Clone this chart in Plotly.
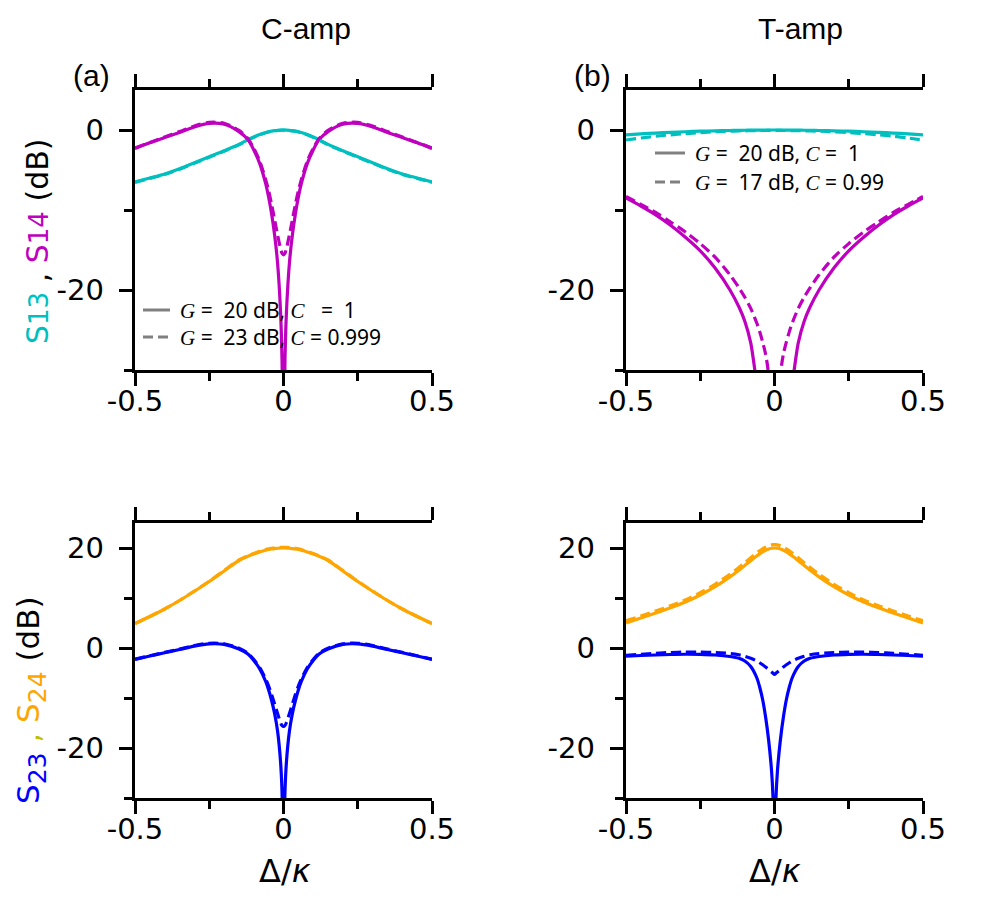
import plotly.graph_objects as go

# Detuning samples (positive half, curves are symmetric about 0)
DX = [0, 0.005, 0.01, 0.02, 0.03, 0.04, 0.05, 0.06, 0.08, 0.1, 0.12, 0.15,
      0.2, 0.25, 0.3, 0.35, 0.4, 0.45, 0.5]

# (a) C-amp, top: S13 (cyan), S14 (magenta)
S13a_solid = [0, 0, -0.01, -0.04, -0.08, -0.14, -0.22, -0.32, -0.57, -0.88, -1.22, -1.8,
              -2.6, -3.35, -4.1, -4.85, -5.5, -6.0, -6.5]
S13a_dash = [-0.02, -0.02, -0.03, -0.06, -0.1, -0.16, -0.24, -0.35, -0.6, -0.92, -1.27, -1.85,
             -2.65, -3.4, -4.15, -4.9, -5.55, -6.05, -6.55]
S14a_solid = [-45, -28.7, -22.7, -16.6, -13.1, -10.5, -8.4, -6.7, -4.2, -2.5, -1.2, -0.2,
              0.72, 0.82, 0.38, -0.3, -0.95, -1.6, -2.3]
S14a_dash = [-15.6, -15.4, -14.8, -13.1, -11.2, -9.3, -7.6, -6.2, -3.9, -2.3, -1.05, -0.05,
             0.85, 0.95, 0.5, -0.2, -0.88, -1.55, -2.25]

# (b) T-amp, top
S13b_solid = [0, 0, 0, 0, 0, -0.005, -0.01, -0.01, -0.02, -0.03, -0.04, -0.06,
              -0.1, -0.15, -0.22, -0.3, -0.38, -0.48, -0.6]
S13b_dash = [-0.05, -0.05, -0.05, -0.05, -0.06, -0.06, -0.07, -0.08, -0.09, -0.1, -0.12, -0.15,
             -0.22, -0.32, -0.45, -0.6, -0.78, -1.0, -1.25]
S14b_solid = [-60, -56, -52, -45, -40, -36, -33, -31.5, -26.6, -23.9, -22.1, -20.0,
              -17.26, -15.1, -13.4, -11.9, -10.6, -9.5, -8.5]
S14b_dash = [-45, -40, -36, -30.5, -28.0, -26.5, -25.2, -24.1, -22.3, -20.9, -19.7, -18.1,
             -15.9, -14.2, -12.75, -11.5, -10.3, -9.3, -8.3]

# (a) C-amp, bottom: S23 (blue), S24 (orange)
S23a_solid = [-45, -28.7, -22.7, -16.6, -13.1, -10.5, -8.4, -6.7, -4.2, -2.5, -1.2, -0.2,
              0.72, 0.82, 0.38, -0.3, -0.95, -1.6, -2.3]
S23a_dash = [-15.7, -15.5, -14.9, -13.1, -11.2, -9.3, -7.6, -6.2, -3.9, -2.3, -1.05, -0.05,
             0.85, 0.95, 0.5, -0.2, -0.88, -1.55, -2.25]
S24a_solid = [20.0, 20.0, 19.99, 19.95, 19.88, 19.8, 19.7, 19.55, 19.2, 18.8, 18.35, 17.5,
              15.4, 13.3, 11.35, 9.5, 7.8, 6.3, 4.9]
S24a_dash = [20.15, 20.15, 20.14, 20.1, 20.03, 19.95, 19.85, 19.7, 19.33, 18.9, 18.45, 17.6,
             15.5, 13.35, 11.4, 9.5, 7.8, 6.3, 4.9]

# (b) T-amp, bottom
S23b_solid = [-45, -30, -24.5, -18.3, -13.8, -10.3, -7.8, -5.9, -3.7, -2.6, -2.05, -1.7,
              -1.4, -1.28, -1.25, -1.3, -1.4, -1.5, -1.65]
S23b_dash = [-5.3, -5.05, -4.8, -4.3, -3.8, -3.35, -2.95, -2.6, -2.05, -1.65, -1.35, -1.1,
             -0.9, -0.82, -0.82, -0.9, -1.05, -1.25, -1.45]
S24b_solid = [20.0, 19.99, 19.95, 19.79, 19.54, 19.22, 18.83, 18.4, 17.47, 16.51, 15.56, 14.23,
              12.26, 10.6, 9.2, 8.05, 7.0, 6.0, 5.0]
S24b_dash = [20.7, 20.68, 20.63, 20.45, 20.18, 19.85, 19.45, 19.0, 18.05, 17.07, 16.1, 14.75,
             12.75, 11.05, 9.6, 8.45, 7.4, 6.4, 5.45]

X_TICKS = [-0.5, 0, 0.5]
X_TICKTEXT = ["-0.5", "0", "0.5"]
X_MINOR = [-0.25, 0.25]

CYAN = "#00BFBF"
MAGENTA = "#BF00BF"
BLUE = "#0000FF"
ORANGE = "#FFA500"
OLIVE = "#BFBF00"
GRAY = "#808080"
DASH = "10px,5px"
LW = 3.2


def mirror(h):
    return h[:0:-1] + h


X = [-v for v in DX[:0:-1]] + DX

fig = go.Figure()

panels = [
    ("x", "y", [(S13a_solid, CYAN, "solid"), (S14a_solid, MAGENTA, "solid"),
                (S13a_dash, CYAN, DASH), (S14a_dash, MAGENTA, DASH)]),
    ("x2", "y2", [(S13b_solid, CYAN, "solid"), (S14b_solid, MAGENTA, "solid"),
                  (S13b_dash, CYAN, DASH), (S14b_dash, MAGENTA, DASH)]),
    ("x3", "y3", [(S24a_solid, ORANGE, "solid"), (S23a_solid, BLUE, "solid"),
                  (S24a_dash, ORANGE, DASH), (S23a_dash, BLUE, DASH)]),
    ("x4", "y4", [(S24b_solid, ORANGE, "solid"), (S23b_solid, BLUE, "solid"),
                  (S24b_dash, ORANGE, DASH), (S23b_dash, BLUE, DASH)]),
]
for xa, ya, series in panels:
    for vals, col, dash in series:
        fig.add_trace(go.Scatter(x=X, y=mirror(vals), mode="lines", xaxis=xa, yaxis=ya,
                                 line=dict(color=col, width=LW, dash=dash, shape="spline",
                                           smoothing=0.8),
                                 showlegend=False, hoverinfo="skip"))

W, H = 1003, 897
OFF = 8  # page body margin in the browser


def fx(x):
    return (x - OFF) / W


def fy(y):
    return 1 - (y - OFF) / H


XA = [fx(135), fx(432)]
XB = [fx(626), fx(923)]
YT = [fy(370), fy(90)]
YB = [fy(798), fy(523)]

TICKFONT = dict(family="DejaVu Sans", size=29, color="black")


def xax(domain, anchor):
    return dict(domain=domain, anchor=anchor, range=[-0.5, 0.5], tickmode="array",
                tickvals=X_TICKS, ticktext=X_TICKTEXT, ticks="outside", ticklen=13,
                tickwidth=3, tickcolor="black", showline=True, linewidth=3,
                linecolor="black", mirror="ticks", showgrid=False, zeroline=False,
                tickfont=TICKFONT, automargin=False, ticklabelstandoff=-10,
                minor=dict(tickmode="array", tickvals=X_MINOR, ticks="outside",
                           ticklen=8, tickwidth=3, tickcolor="black", showgrid=False))


def yax(domain, anchor, rng, major, minor, side="left", overlaying=None):
    pad = "\u00a0" if side == "left" else ""
    d = dict(anchor=anchor, range=rng, tickmode="array", tickvals=major,
             ticktext=[f"{v}{pad}" for v in major], ticks="outside", ticklen=13,
             tickwidth=3, tickcolor="black", showline=True, linewidth=3,
             linecolor="black", showgrid=False, zeroline=False, side=side,
             tickfont=TICKFONT, automargin=False,
             minor=dict(tickmode="array", tickvals=minor, ticks="outside",
                        ticklen=8, tickwidth=3, tickcolor="black", showgrid=False))
    if overlaying:
        d["overlaying"] = overlaying
    else:
        d["domain"] = domain
    return d


TOP_MAJOR, TOP_MINOR = [-20, 0], [-30, -10]
BOT_MAJOR, BOT_MINOR = [-20, 0, 20], [-30, -10, 10]

fig.update_layout(
    width=W, height=H, margin=dict(l=0, r=0, t=0, b=0, autoexpand=False),
    paper_bgcolor="white", plot_bgcolor="white", showlegend=False,
    font=dict(family="DejaVu Sans", color="black"),
    xaxis=xax(XA, "y"), xaxis2=xax(XB, "y2"), xaxis3=xax(XA, "y3"), xaxis4=xax(XB, "y4"),
    yaxis=yax(YT, "x", [-30, 5], TOP_MAJOR, TOP_MINOR),
    yaxis2=yax(YT, "x2", [-30, 5], TOP_MAJOR, TOP_MINOR),
    yaxis3=yax(YB, "x3", [-30, 25], BOT_MAJOR, BOT_MINOR),
    yaxis4=yax(YB, "x4", [-30, 25], BOT_MAJOR, BOT_MINOR),
    yaxis5=yax(None, "x", [-30, 5], TOP_MAJOR, TOP_MINOR, "right", "y"),
    yaxis6=yax(None, "x2", [-30, 5], TOP_MAJOR, TOP_MINOR, "right", "y2"),
    yaxis7=yax(None, "x3", [-30, 25], BOT_MAJOR, BOT_MINOR, "right", "y3"),
    yaxis8=yax(None, "x4", [-30, 25], BOT_MAJOR, BOT_MINOR, "right", "y4"),
)

ann = []


def text(x, y, s, size, family="DejaVu Sans", angle=0, xanchor="center", color="black"):
    ann.append(dict(x=fx(x), y=fy(y), xref="paper", yref="paper", text=s, showarrow=False,
                    textangle=angle, xanchor=xanchor, yanchor="middle",
                    font=dict(family=family, size=size, color=color)))


text(306, 28, "C-amp", 30, "Liberation Sans")
text(800, 28, "T-amp", 30, "Liberation Sans")
text(91, 75, "(a)", 30, "Liberation Sans")
text(592, 75, "(b)", 30, "Liberation Sans")
text(285, 871, "Δ/<i>κ</i>", 32)
text(775, 871, "Δ/<i>κ</i>", 32)

top_label = (f'<span style="color:{CYAN}">S<span style="font-size:26px">13</span></span>'
             f' , <span style="color:{MAGENTA}">S<span style="font-size:26px">14</span></span> (dB)')
bot_label = (f'<span style="color:{BLUE}">S<sub><span style="font-size:25px">23</span></sub></span>'
             f'<span style="color:{OLIVE}"> , </span>'
             f'<span style="color:{ORANGE}">S<sub><span style="font-size:25px">24</span></sub></span> (dB)')
text(37, 242, top_label, 30, angle=-90)
text(31, 700, bot_label, 31, angle=-90)

# Legends (grey line samples with parameter text)
LEG_FONT = "Noto Sans"
IT = '<span style="font-family:Liberation Serif"><i>{}</i></span>'
G, C = IT.format("G"), IT.format("C")
leg_a = [f'{G} =  20 dB, {C}   =  1', f'{G} =  23 dB, {C} = 0.999']
leg_b = [f'{G} =  20 dB, {C} =  1', f'{G} =  17 dB, {C} = 0.99']
shapes = []
for (x0, x1, xt, rows, labels) in [(143, 170, 178, [310, 337], leg_a),
                                    (655, 685, 693, [153, 182], leg_b)]:
    for yy, lab, dash in zip(rows, labels, ["solid", DASH]):
        shapes.append(dict(type="line", xref="paper", yref="paper", x0=fx(x0), x1=fx(x1),
                           y0=fy(yy), y1=fy(yy), line=dict(color=GRAY, width=3, dash=dash)))
        text(xt, yy, lab, 21, LEG_FONT, xanchor="left")

fig.update_layout(annotations=ann, shapes=shapes)
fig.write_html("out.html")
